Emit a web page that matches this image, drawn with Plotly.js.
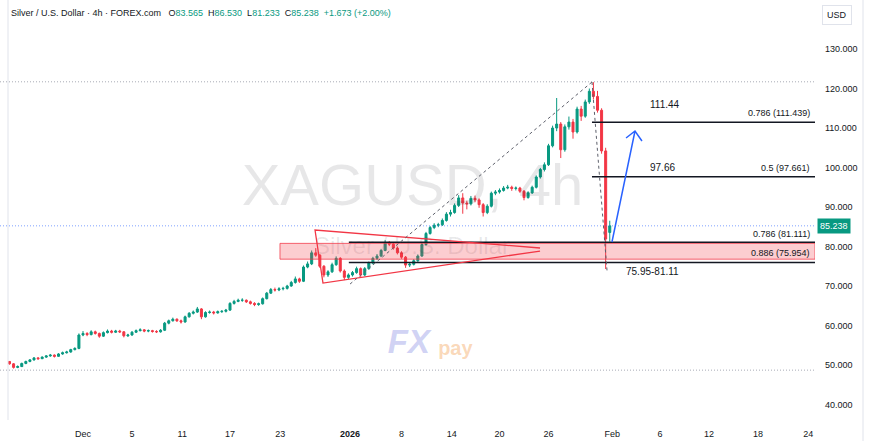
<!DOCTYPE html>
<html><head><meta charset="utf-8">
<script src="https://cdn.plot.ly/plotly-3.0.1.min.js"></script>
<style>html,body{margin:0;padding:0;background:#fff;}#chart{width:870px;height:442px;}</style>
</head><body><div id="chart"></div>
<script>
// ---- data ----
const symbolName = 'Silver / U.S. Dollar · 4h · FOREX.com';
const watermarkMain = 'XAGUSD, 4h';
const watermarkSub = 'Silver / U.S. Dollar';
const lastBar = {o: '83.565', h: '86.530', l: '81.233', c: '85.238', chg: '+1.673 (+2.00%)'};
const currency = 'USD';
// time axis: trading days counted from Dec 1 (weekends/holidays removed), 3 bars drawn per day
const firstBarDay = -6;
const barsPerDay = 3;
const opens = [
50.9,50.3,49.4,49.6,50.4,50.9,51.3,51.8,51.6,52.0,
52.3,52.5,52.2,52.8,53.1,53.3,53.9,54.2,57.6,58.0,
57.7,58.4,58.0,57.3,58.2,58.6,58.3,58.6,58.4,57.4,
57.6,58.3,58.7,58.9,58.6,58.7,58.5,58.4,58.8,60.6,
61.2,61.6,61.2,60.9,62.2,63.1,63.4,64.2,62.2,63.3,
63.4,63.2,63.5,63.6,63.9,65.6,66.1,66.4,66.4,66.0,
65.6,65.3,65.5,66.8,68.2,69.1,69.0,69.3,69.4,70.0,
70.9,71.8,71.2,74.8,75.6,78.4,77.8,75.0,72.8,73.6,
75.4,77.0,73.8,72.2,72.8,73.4,74.4,72.8,74.4,75.8,
77.0,77.6,79.0,80.9,80.6,79.6,78.4,77.3,75.3,75.5,
76.4,77.6,80.5,83.3,84.8,85.4,85.5,86.6,88.2,88.6,
90.4,92.3,91.0,90.8,92.2,91.8,90.6,88.6,90.2,93.5,
93.8,94.2,94.8,95.0,94.7,94.8,94.0,92.4,93.6,95.0,
97.6,99.5,100.7,105.5,110.0,111.0,104.5,110.3,111.5,109.0,
114.8,113.0,116.6,119.3,118.0,114.5,104.2,83.565];
const highs = [
51.0,50.5,49.9,50.6,51.1,51.5,52.0,52.0,52.2,52.5,
52.8,52.7,53.0,53.4,53.6,54.1,54.5,58.0,58.6,58.3,
58.8,58.7,58.2,58.5,59.0,58.9,58.9,58.9,58.6,57.9,
58.6,59.0,59.3,59.1,59.0,58.9,58.8,59.1,60.9,61.5,
62.0,61.8,61.5,62.5,63.4,63.8,64.7,64.4,63.6,63.8,
63.7,63.8,63.9,64.2,65.9,66.5,66.8,66.9,66.6,66.3,
65.9,65.8,67.1,68.5,69.5,69.6,69.7,69.8,70.3,71.3,
72.4,72.1,75.2,76.2,79.0,79.6,78.1,75.3,74.0,75.9,
77.5,77.3,74.2,73.2,73.8,74.9,74.7,74.8,76.2,77.4,
78.1,79.4,81.6,81.4,81.0,80.0,78.8,77.6,76.0,76.8,
78.0,80.9,83.7,85.2,85.9,86.0,87.1,88.7,89.3,90.9,
93.0,93.5,91.6,92.8,92.9,92.2,91.0,90.7,93.9,94.3,
94.7,95.3,95.6,95.4,95.2,95.1,94.3,94.0,95.4,98.0,
99.9,101.3,106.0,110.6,117.6,111.5,110.9,112.9,112.3,115.4,
115.6,117.2,120.0,121.6,119.4,115.0,105.0,86.53];
const lows = [
50.1,49.1,49.2,49.5,50.2,50.7,51.1,51.3,51.5,51.8,
52.1,51.9,52.1,52.6,52.9,53.1,53.7,54.0,57.3,57.3,
57.5,57.7,56.9,57.1,58.0,58.0,58.1,58.1,57.0,57.1,
57.4,58.1,58.5,58.3,58.3,58.2,58.1,58.2,58.6,60.3,
61.0,60.9,60.5,60.7,62.0,62.8,63.2,61.6,62.0,63.0,
62.8,63.0,63.2,63.3,63.7,65.3,65.9,66.0,65.7,65.3,
64.9,65.0,65.3,66.6,68.0,68.6,68.7,68.9,69.1,69.8,
70.6,70.8,71.0,74.5,75.3,77.4,74.6,72.2,72.3,73.3,
75.1,73.4,71.5,71.8,72.4,73.1,72.3,72.5,74.1,75.5,
76.6,77.3,78.8,80.1,79.2,78.0,76.9,74.6,74.8,75.2,
76.1,77.4,80.2,83.0,84.4,84.9,85.2,86.3,87.6,88.3,
90.0,88.3,89.4,90.4,91.2,89.8,87.6,88.2,89.9,93.0,
93.4,93.9,94.5,94.1,94.2,93.6,91.7,92.1,93.3,94.7,
97.2,99.0,100.4,105.1,109.2,102.4,104.0,109.6,107.3,108.6,
111.8,112.6,116.1,117.2,113.9,103.5,74.3,81.233];
const closes = [
50.3,49.4,49.6,50.4,50.9,51.3,51.8,51.6,52.0,52.3,
52.5,52.2,52.8,53.1,53.3,53.9,54.2,57.6,58.0,57.7,
58.4,58.0,57.3,58.2,58.6,58.3,58.6,58.4,57.4,57.6,
58.3,58.7,58.9,58.6,58.7,58.5,58.4,58.8,60.6,61.2,
61.6,61.2,60.9,62.2,63.1,63.4,64.2,62.2,63.3,63.4,
63.2,63.5,63.6,63.9,65.6,66.1,66.4,66.4,66.0,65.6,
65.3,65.5,66.8,68.2,69.1,69.0,69.3,69.4,70.0,70.9,
71.8,71.2,74.8,75.6,78.4,77.8,75.0,72.8,73.6,75.4,
77.0,73.8,72.2,72.8,73.4,74.4,72.8,74.4,75.8,77.0,
77.6,79.0,80.9,80.6,79.6,78.4,77.3,75.3,75.5,76.4,
77.6,80.5,83.3,84.8,85.4,85.5,86.6,88.2,88.6,90.4,
92.3,91.0,90.8,92.2,91.8,90.6,88.6,90.2,93.5,93.8,
94.2,94.8,95.0,94.7,94.8,94.0,92.4,93.6,95.0,97.6,
99.5,100.7,105.5,110.0,111.0,104.5,110.3,111.5,109.0,114.8,
113.0,116.6,119.3,118.0,114.5,104.2,81.9,85.238];
const xTickDays = [0,4,8.1,12,16.1,21.8,26,30.1,34,38,43.2,47.1,51.1,55.1,59.2];
const xTickText = ['Dec','5','11','17','23','<b>2026</b>','8','14','20','26','Feb','6','12','18','24'];
const yTickVals = [40,50,60,70,80,90,100,110,120,130];
const yTickText = ['40.000','50.000','60.000','70.000','80.000','90.000','100.000','110.000','120.000','130.000'];
const lastPrice = 85.238;
const fibLevels = [111.439, 97.661, 81.111, 75.954];
const fibText = ['0.786 (111.439)', '0.5 (97.661)', '0.786 (81.111)', '0.886 (75.954)'];
const targetText = ['111.44', '97.66'];
const zoneText = '75.95-81.11';
const zoneLow = 76.8, zoneHigh = 80.8;
const swingHigh = 121.7, rangeLow = 48.7;

// ---- drawing ----
const xs = opens.map((_, i) => firstBarDay + i / barsPerDay);
const UP = '#089981', DN = '#f23645', INK = '#131722';
const FONT = 'Liberation Sans, Arial, sans-serif';

const wm = {
  type: 'scatter', mode: 'text', hoverinfo: 'skip', showlegend: false,
  x: [26.9, 26.85, 26.6, 30.4], y: [94.3, 79.6, 55.1, 53.8],
  text: [watermarkMain, watermarkSub, '<b><i>FX</i></b>', '<b>pay</b>'],
  textposition: 'middle center',
  textfont: {family: FONT, size: [58, 24, 33, 20],
    color: ['rgba(19,23,34,0.10)', 'rgba(19,23,34,0.10)', 'rgba(150,155,230,0.45)', 'rgba(245,170,100,0.45)']}
};
const candles = {
  type: 'candlestick', x: xs, open: opens, high: highs, low: lows, close: closes,
  increasing: {line: {color: UP, width: 1}, fillcolor: UP},
  decreasing: {line: {color: DN, width: 1}, fillcolor: DN},
  whiskerwidth: 0, hoverinfo: 'skip', showlegend: false
};

const DOT = '1px,2px';
const shapes = [];
const hline = (y, x0, col, w, dash) => shapes.push({type: 'line', xref: x0 === null ? 'paper' : 'x', x0: x0 === null ? 0 : x0, x1: x0 === null ? 1 : 59.755, yref: 'y', y0: y, y1: y, line: {color: col, width: w, dash: dash}});
hline(swingHigh, null, '#a9acb6', 1, DOT);
hline(rangeLow, null, '#a9acb6', 1, DOT);
hline(lastPrice, null, 'rgba(41,98,255,0.6)', 1, DOT);
shapes.push({type: 'rect', xref: 'x', x0: 16.08, x1: 59.755, yref: 'y', y0: zoneLow, y1: zoneHigh,
  fillcolor: 'rgba(242,54,69,0.25)', line: {color: 'rgba(242,54,69,0.75)', width: 1}});
hline(fibLevels[0], 41.55, INK, 1.5, 'solid');
hline(fibLevels[1], 41.55, INK, 1.5, 'solid');
hline(fibLevels[2], 21.7, INK, 1.5, 'solid');
hline(fibLevels[3], 21.7, INK, 1.5, 'solid');
// triangle
shapes.push({type: 'path', xref: 'x', yref: 'y', path: 'M37.31,79.62 L18.94,84.18 L19.59,70.76 L37.31,78.86', line: {color: DN, width: 1.3}});
// dashed trend / fib diagonals
shapes.push({type: 'line', xref: 'x', yref: 'y', x0: 21.8, y0: 70.5, x1: 41.55, y1: 121.65, line: {color: '#5d606b', width: 1, dash: '3px,3px'}});
shapes.push({type: 'line', xref: 'x', yref: 'y', x0: 41.55, y0: 121.65, x1: 42.78, y1: 73.8, line: {color: '#5d606b', width: 1, dash: '3px,3px'}});
// blue arrow
shapes.push({type: 'path', xref: 'x', yref: 'y', path: 'M43.18,81.14 L45.06,109.24 M44.33,107.47 L45.06,109.24 L45.63,106.71', line: {color: '#2962ff', width: 1.5}});
// frame lines
shapes.push({type: 'line', xref: 'paper', yref: 'paper', x0: 8 / 815, x1: 8 / 815, y0: 0, y1: 1, line: {color: '#e0e3eb', width: 1}});
shapes.push({type: 'line', xref: 'paper', yref: 'paper', x0: 863 / 815, x1: 863 / 815, y0: -0.05, y1: 1, line: {color: '#e0e3eb', width: 1}});

const G = (t) => '<span style="color:' + UP + '">' + t + '</span>';
const annotations = [
  {xref: 'paper', yref: 'paper', x: 9 / 815, y: 1 - 13 / 420, xanchor: 'left', yanchor: 'middle', showarrow: false,
   text: symbolName + '   O' + G(lastBar.o) + '  H' + G(lastBar.h) + '  L' + G(lastBar.l) + '  C' + G(lastBar.c) + '  ' + G(lastBar.chg),
   font: {family: FONT, size: 9, color: INK}},
  {xref: 'paper', yref: 'paper', x: 837 / 815, y: 1 - 15 / 420, xanchor: 'center', yanchor: 'middle', showarrow: false,
   text: currency, font: {family: FONT, size: 9, color: INK}, bordercolor: '#e0e3eb', borderwidth: 1, borderpad: 4, bgcolor: '#fff'},
  {xref: 'paper', yref: 'y', x: 1, y: lastPrice, xanchor: 'left', yanchor: 'middle', xshift: 2, showarrow: false,
   text: lastPrice.toFixed(3), font: {family: FONT, size: 9, color: '#fff'}, bgcolor: UP, borderpad: 2},
  {xref: 'x', yref: 'y', x: 47.51, y: 116.07, showarrow: false, text: targetText[0], font: {family: FONT, size: 10, color: INK}},
  {xref: 'x', yref: 'y', x: 47.27, y: 100.13, showarrow: false, text: targetText[1], font: {family: FONT, size: 10, color: INK}},
  {xref: 'x', yref: 'y', x: 46.45, y: 73.8, showarrow: false, text: zoneText, font: {family: FONT, size: 10, color: INK}}
];
const fibLabelY = [113.8, 99.87, 83.16, 78.35];
fibText.forEach((t, i) => annotations.push({xref: 'paper', yref: 'y', x: 812 / 815, y: fibLabelY[i], xanchor: 'right', yanchor: 'middle', showarrow: false,
  text: t, font: {family: FONT, size: 9, color: INK}}));

const layout = {
  width: 870, height: 442, margin: {l: 0, r: 55, t: 0, b: 22},
  paper_bgcolor: '#fff', plot_bgcolor: '#fff', showlegend: false,
  font: {family: FONT, size: 9, color: INK},
  xaxis: {type: 'linear', range: [-6.776, 59.755], rangeslider: {visible: false}, showgrid: false, zeroline: false,
    showline: false, ticks: '', tickvals: xTickDays, ticktext: xTickText, ticklabelstandoff: 7,
    tickfont: {family: FONT, size: 9, color: INK}, fixedrange: true},
  yaxis: {side: 'right', range: [36.08, 142.41], showgrid: false, zeroline: false, showline: false, ticks: '',
    tickvals: yTickVals, ticktext: yTickText, ticklabelstandoff: 9,
    tickfont: {family: FONT, size: 9, color: INK}, fixedrange: true},
  shapes: shapes, annotations: annotations
};
Plotly.newPlot('chart', [wm, candles], layout, {displayModeBar: false, staticPlot: true});
</script></body></html>
